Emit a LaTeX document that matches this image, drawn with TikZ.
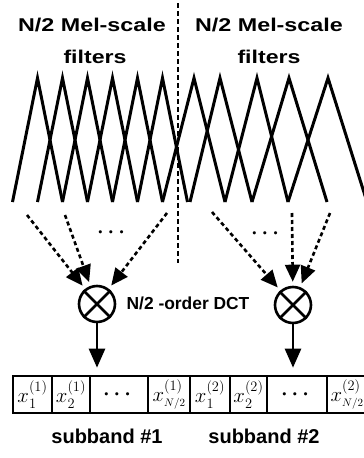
\documentclass[tikz,border=0pt]{standalone}
\usepackage{amsmath}
\usepackage{fontspec}
\setmainfont{Liberation Sans}
\usetikzlibrary{arrows.meta}
\begin{document}
\begin{tikzpicture}[x=1pt,y=-1pt,
  tri/.style={line width=3pt, line join=miter},
  divider/.style={line width=2.6pt, dash pattern=on 5pt off 3pt},
  darrow/.style={line width=2.6pt, dash pattern=on 4pt off 3pt, -{Triangle[length=17pt,width=15pt]}, shorten >=4pt},
  sarrow/.style={line width=2.6pt, -{Triangle[length=19pt,width=16pt]}, shorten >=7pt},
  mixer/.style={circle, draw, line width=2.6pt, minimum size=36pt, inner sep=0pt},
  cell/.style={draw, line width=2.6pt, minimum height=37pt, inner sep=0pt, font=\fontsize{21}{21}\selectfont},
  title/.style={font=\bfseries\fontsize{18.5}{18.5}\selectfont, anchor=base, inner sep=0pt},
  label/.style={font=\bfseries\fontsize{17.4}{17.4}\selectfont, anchor=base, inner sep=0pt},
  sublabel/.style={font=\bfseries\fontsize{20}{20}\selectfont, anchor=base, inner sep=0pt},
  dots/.style={font=\bfseries\fontsize{22}{22}\selectfont, inner sep=0pt},
]
\useasboundingbox (0,0) rectangle (364,458);

% titles
\node[title] (t1) at (92,31) {\scalebox{1.26}[1]{N/2 Mel-scale}};
\node[title] (t2) at (95,63) {\scalebox{1.25}[1]{filters}};
\node[title] (t3) at (269,31) {\scalebox{1.26}[1]{N/2 Mel-scale}};
\node[title] (t4) at (269,63) {\scalebox{1.25}[1]{filters}};

% divider
\draw[divider] (178,3) -- (178,263);

% left filter bank
\foreach \i in {0,...,5}
  \draw[tri] (12.5+25*\i,202) -- (37.5+25*\i,78) -- (62.5+25*\i,202);
% right filter bank
\foreach \a/\p/\b in {162.5/194/225, 190/220/252, 225/257/288, 252/289/327, 288/328/367}
  \draw[tri] (\a,202) -- (\p,78) -- (\b,202);

% mixers
\node[mixer] (cl) at (97,304) {};
\node[mixer] (cr) at (293,305) {};
\draw[line width=2.6pt] (cl.north west) -- (cl.south east) (cl.north east) -- (cl.south west);
\draw[line width=2.6pt] (cr.north west) -- (cr.south east) (cr.north east) -- (cr.south west);

% dashed inputs
\coordinate (s1) at (27,215);
\coordinate (s2) at (65,215);
\coordinate (s3) at (167,213);
\coordinate (r1) at (212,212);
\coordinate (r2) at (292,213);
\coordinate (r3) at (330,213);
\draw[darrow] (s1) -- (cl);
\draw[darrow] (s2) -- (cl);
\draw[darrow] (s3) -- (cl);
\draw[darrow] (r1) -- (cr);
\draw[darrow] (r2) -- (cr);
\draw[darrow] (r3) -- (cr);
\node[dots] (d1) at (113,233) {$\boldsymbol{\cdots}$};
\node[dots] (d2) at (267,234) {$\boldsymbol{\cdots}$};

% DCT label
\node[label] (dct) at (188,309) {N/2 -order DCT};

% coefficient cells
\node[cell, minimum width=39pt] (c1) at (32.5,394.5) {$x_1^{(1)}$};
\node[cell, minimum width=38pt] (c2) at (71,394.5) {$x_2^{(1)}$};
\node[cell, minimum width=58pt] (c3) at (119,394.5) {$\boldsymbol{\cdots}$};
\node[cell, minimum width=42pt] (c4) at (169,394.5) {$x_{\scriptscriptstyle N/2}^{(1)}$};
\node[cell, minimum width=40pt] (c5) at (210,394.5) {$x_1^{(2)}$};
\node[cell, minimum width=37pt] (c6) at (248.5,394.5) {$x_2^{(2)}$};
\node[cell, minimum width=60pt] (c7) at (297,394.5) {$\boldsymbol{\cdots}$};
\node[cell, minimum width=40pt] (c8) at (347,394.5) {$x_{\scriptscriptstyle N/2}^{(2)}$};

% DCT outputs
\draw[sarrow] (cl.south) -- (cl.south |- c3.north);
\draw[sarrow] (cr.south) -- (cr.south |- c7.north);

% subband labels
\node[sublabel] (sb1) at (107,443) {subband \#1};
\node[sublabel] (sb2) at (264,443) {subband \#2};
\end{tikzpicture}
\end{document}
